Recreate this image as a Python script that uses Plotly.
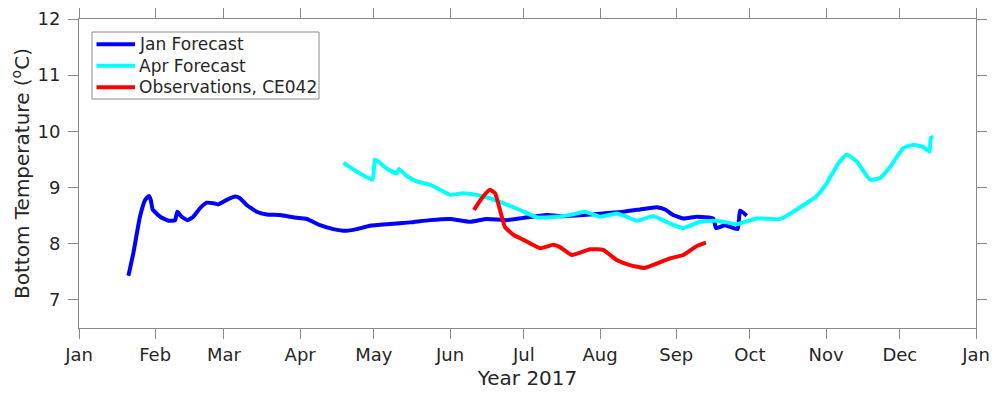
import pandas as pd
import plotly.graph_objects as go

# ---- data (day offset from 2017-01-01, bottom temperature in degC) ----
jan_days = [20.1, 22.1, 24.8, 26.9, 28.5, 29.2, 30.0, 33.0, 36.4, 39.1, 40.0, 41.8, 44.1, 46.5,
            49.2, 52.0, 54.7, 56.7, 60.1, 63.5, 65.5, 68.2, 72.3, 76.4, 81.8, 87.2, 92.7, 98.1,
            103.5, 108.9, 113.0, 118.4, 126.5, 134.7, 142.8, 151.0, 159.1, 165.9, 174.0, 180.8,
            190.3, 197.1, 205.2, 213.3, 221.5, 228.3, 235.1, 238.5, 241.8, 245.9, 251.4, 258.1,
            259.2, 262.9, 268.0, 269.0, 271.7]
jan_temp = [7.43, 7.83, 8.48, 8.78, 8.85, 8.78, 8.61, 8.48, 8.41, 8.42, 8.57, 8.48, 8.42, 8.48,
            8.63, 8.73, 8.72, 8.70, 8.78, 8.84, 8.81, 8.69, 8.57, 8.52, 8.51, 8.47, 8.44, 8.33,
            8.26, 8.23, 8.26, 8.32, 8.35, 8.38, 8.42, 8.44, 8.39, 8.44, 8.42, 8.46,
            8.51, 8.49, 8.51, 8.54, 8.57, 8.61, 8.65, 8.61, 8.51, 8.45, 8.48, 8.45,
            8.28, 8.33, 8.26, 8.59, 8.50]

apr_days = [107.6, 114.3, 119.5, 120.4, 125.2, 129.3, 130.2, 133.3, 137.4, 142.8, 146.9, 151.0,
            156.4, 161.8, 167.2, 172.7, 179.5, 186.2, 191.7, 199.8, 205.9, 212.0, 218.8, 222.8,
            226.9, 233.7, 240.5, 245.9, 252.7, 259.5, 267.6, 275.8, 285.3, 290.7, 300.2, 304.3,
            309.0, 312.4, 316.5, 321.9, 326.0, 330.1, 335.4, 339.5, 343.6, 346.1, 346.6, 347.6]
apr_temp = [9.44, 9.25, 9.14, 9.50, 9.34, 9.25, 9.33, 9.21, 9.11, 9.05, 8.96, 8.87,
            8.90, 8.87, 8.81, 8.72, 8.60, 8.47, 8.47, 8.51, 8.57, 8.48, 8.54, 8.48,
            8.41, 8.49, 8.36, 8.28, 8.39, 8.41, 8.35, 8.45, 8.44, 8.57, 8.85, 9.08,
            9.43, 9.59, 9.46, 9.14, 9.17, 9.37, 9.70, 9.76, 9.72, 9.64, 9.88, 9.91]

obs_days = [160.7, 163.9, 167.2, 169.3, 171.3, 173.3, 176.7, 180.8, 187.6, 193.0, 195.7, 200.5,
            207.9, 213.3, 218.8, 224.2, 230.0, 234.0, 240.5, 245.9, 251.4, 255.1]
obs_temp = [8.60, 8.81, 8.96, 8.90, 8.60, 8.30, 8.16, 8.07, 7.92, 7.98, 7.94, 7.80,
            7.90, 7.89, 7.71, 7.62, 7.57, 7.63, 7.74, 7.80, 7.96, 8.02]

series_names = ["Jan Forecast", "Apr Forecast", "Observations, CE042"]
series_colors = ["#0000ff", "#00ffff", "#ff0000"]

start = pd.Timestamp("2017-01-01")


def to_dates(days):
    return [start + pd.to_timedelta(d, unit="D") for d in days]


TEXT = "#262626"
AXIS = "#8a8a8a"
FONT = "DejaVu Sans"

# page has an 8px body margin; size the figure so the plot box lands at 79..976 x 19..328
OFF = 8
W, H = 984, 382
ML, MR, MT, MB = 71, 16, 11, 62
PW, PH = W - ML - MR, H - MT - MB


def px_x(px):
    return (px - OFF - ML) / PW


def px_y(py):
    return 1 - (py - OFF - MT) / PH


fig = go.Figure()
for name, color, d, t in zip(series_names, series_colors,
                             [jan_days, apr_days, obs_days],
                             [jan_temp, apr_temp, obs_temp]):
    fig.add_trace(go.Scatter(x=to_dates(d), y=t, mode="lines", name=name, showlegend=False,
                             line=dict(color=color, width=4, shape="spline", smoothing=0.4)))

axis_common = dict(showline=True, linecolor=AXIS, linewidth=1, mirror="allticks",
                   ticks="outside", ticklen=10, tickcolor=AXIS, tickwidth=1,
                   showgrid=False, zeroline=False, automargin=False,
                   tickfont=dict(family=FONT, size=18, color=TEXT))

# ---- legend box drawn in paper coordinates ----
shapes = [dict(type="rect", xref="paper", yref="paper",
               x0=px_x(92), x1=px_x(319), y0=px_y(99), y1=px_y(32),
               line=dict(color=AXIS, width=1), fillcolor="white", layer="above")]
annotations = []
row_y = [44.3, 65.7, 87.3]
for name, color, ry in zip(series_names, series_colors, row_y):
    shapes.append(dict(type="line", xref="paper", yref="paper",
                       x0=px_x(96.5), x1=px_x(135), y0=px_y(ry), y1=px_y(ry),
                       line=dict(color=color, width=4), layer="above"))
    annotations.append(dict(xref="paper", yref="paper", x=px_x(136.5), y=px_y(ry),
                            xanchor="left", yanchor="middle", showarrow=False, text=name,
                            font=dict(family=FONT, size=17, color=TEXT)))

fig.update_layout(
    width=W, height=H,
    margin=dict(l=ML, r=MR, t=MT, b=MB),
    paper_bgcolor="white", plot_bgcolor="white",
    font=dict(family=FONT, color=TEXT),
    xaxis=dict(type="date", range=["2017-01-01", "2018-01-01"], dtick="M1",
               tick0="2017-01-01", tickformat="%b",
               title=dict(text="Year 2017", font=dict(family=FONT, size=20, color=TEXT), standoff=9),
               **axis_common),
    yaxis=dict(range=[6.5, 12], tickvals=[7, 8, 9, 10, 11, 12], ticklabelstandoff=4,
               title=dict(text="Bottom Temperature (<sup>o</sup>C)",
                          font=dict(family=FONT, size=20, color=TEXT), standoff=8),
               **axis_common),
    showlegend=False,
    shapes=shapes,
    annotations=annotations,
)

fig.write_html("out.html")
